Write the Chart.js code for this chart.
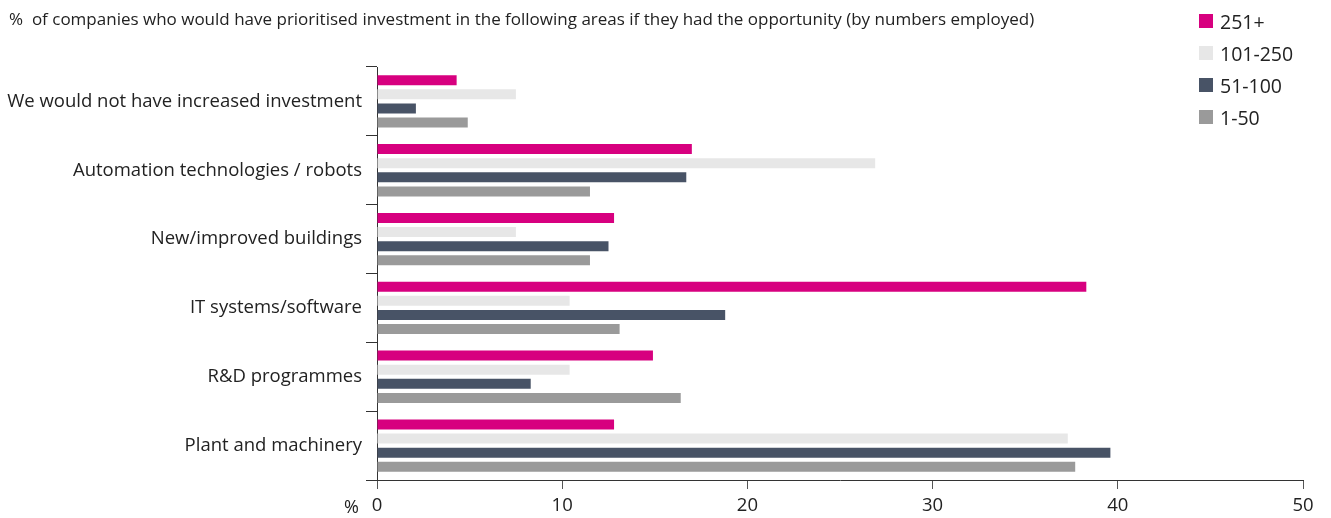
<!DOCTYPE html>
<html lang="en">
<head>
    <meta charset="UTF-8">
    <title>Investment priorities by company size</title>
    <script src="https://cdn.jsdelivr.net/npm/chart.js"></script>
    <style>
        body {
            margin: 0;
            background: #fff;
            font-family: "Open Sans", sans-serif;
            color: #222;
        }
        .wrap {
            position: relative;
            width: 1331px;
            height: 518px;
        }
        #title {
            position: absolute;
            left: 9px;
            top: 7px;
            font-size: 17px;
            white-space: nowrap;
        }
        #legend {
            position: absolute;
            left: 1199px;
            top: 5px;
        }
        .item {
            display: flex;
            align-items: center;
            height: 32px;
            font-size: 19.5px;
        }
        .item .box {
            width: 14px;
            height: 14px;
            margin-right: 7px;
        }
    </style>
</head>
<body>
    <div class="wrap">
        <canvas id="barChart" width="1331" height="518"></canvas>
        <div id="title">%&nbsp; of companies who would have prioritised investment in the following areas if they had the opportunity (by numbers employed)</div>
        <div id="legend"></div>
    </div>

    <script>
        const categories = [
            'We would not have increased investment',
            'Automation technologies / robots',
            'New/improved buildings',
            'IT systems/software',
            'R&D programmes',
            'Plant and machinery'
        ];
        const seriesNames = ['251+', '101-250', '51-100', '1-50'];
        const size251plus = [4.3, 17.0, 12.8, 38.3, 14.9, 12.8];
        const size101to250 = [7.5, 26.9, 7.5, 10.4, 10.4, 37.3];
        const size51to100 = [2.1, 16.7, 12.5, 18.8, 8.3, 39.6];
        const size1to50 = [4.9, 11.5, 11.5, 13.1, 16.4, 37.7];
        const xTicks = [0, 10, 20, 30, 40, 50];

        const colors = ['#d7007f', '#e7e7e7', '#485366', '#9a9a9a'];
        const allValues = [size251plus, size101to250, size51to100, size1to50];

        // legend on the right, drawn as plain html
        const legend = document.getElementById('legend');
        seriesNames.forEach((name, i) => {
            const row = document.createElement('div');
            row.className = 'item';
            row.innerHTML = '<span class="box" style="background:' + colors[i] + '"></span>' + name;
            legend.appendChild(row);
        });

        // "%" unit next to the zero tick
        const unitLabel = {
            id: 'unitLabel',
            afterDraw(chart) {
                const x = chart.scales.x;
                const ctx = chart.ctx;
                ctx.save();
                ctx.font = '18px "Open Sans"';
                ctx.fillStyle = '#222';
                ctx.textAlign = 'right';
                ctx.textBaseline = 'middle';
                ctx.fillText('%', x.getPixelForValue(0) - 18, 508);
                ctx.restore();
            }
        };

        const ctx = document.getElementById('barChart').getContext('2d');
        new Chart(ctx, {
            type: 'bar',
            data: {
                labels: categories,
                datasets: seriesNames.map((name, i) => ({
                    label: name,
                    data: allValues[i],
                    backgroundColor: colors[i],
                    categoryPercentage: 0.82,
                    barPercentage: 0.71
                }))
            },
            options: {
                indexAxis: 'y',
                responsive: false,
                animation: false,
                layout: {
                    padding: { left: 0, right: 28, top: 67, bottom: 0 }
                },
                plugins: {
                    legend: { display: false },
                    tooltip: { enabled: false }
                },
                scales: {
                    x: {
                        min: 0,
                        max: 50,
                        afterBuildTicks: (scale) => {
                            scale.ticks = xTicks.map(v => ({ value: v }));
                        },
                        afterFit: (scale) => { scale.height = 38; },
                        grid: {
                            drawOnChartArea: false,
                            tickLength: 9,
                            color: '#555'
                        },
                        border: { color: '#333', width: 1 },
                        ticks: {
                            font: { family: 'Open Sans', size: 18.5 },
                            color: '#222',
                            padding: 6
                        }
                    },
                    y: {
                        afterFit: (scale) => { scale.width = 377; },
                        grid: {
                            offset: true,
                            drawOnChartArea: false,
                            tickLength: 11,
                            color: '#333'
                        },
                        border: { color: '#333', width: 1 },
                        ticks: {
                            font: { family: 'Open Sans', size: 18.5 },
                            color: '#222',
                            padding: 4
                        }
                    }
                }
            },
            plugins: [unitLabel]
        });
    </script>
</body>
</html>
